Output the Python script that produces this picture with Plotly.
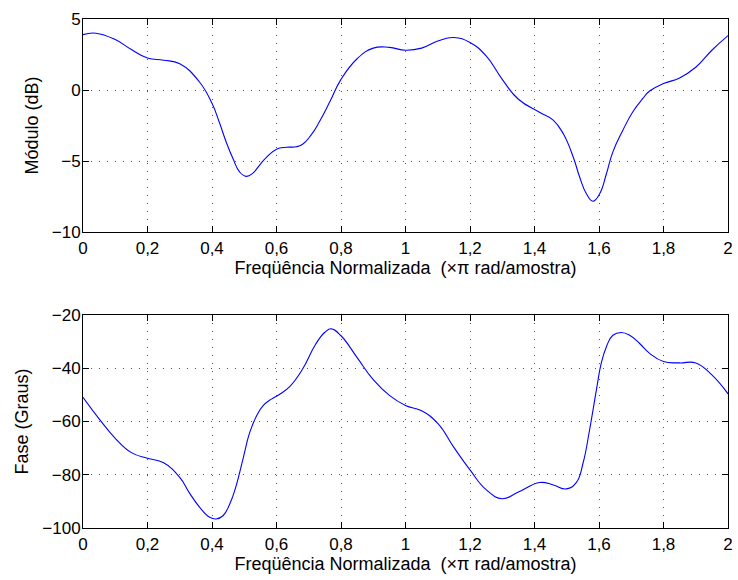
import plotly.graph_objects as go
from plotly.subplots import make_subplots

# Magnitude response (dB)
mag_x = [0.0, 0.04, 0.1, 0.15, 0.2, 0.25, 0.3, 0.36, 0.4, 0.424, 0.444, 0.465, 0.486, 0.506,
         0.527, 0.547, 0.568, 0.6, 0.63, 0.661, 0.681, 0.707, 0.733, 0.766, 0.8, 0.85, 0.9,
         0.95, 1.0, 1.05, 1.1, 1.15, 1.2, 1.25, 1.3, 1.35, 1.4165, 1.458, 1.489, 1.52, 1.54,
         1.561, 1.581, 1.602, 1.623, 1.643, 1.674, 1.705, 1.736, 1.757, 1.8, 1.85, 1.9, 1.95, 2.0]
mag_y = [3.9, 4.0, 3.55, 2.85, 2.25, 2.1, 1.85, 0.6, -0.94, -2.36, -3.66, -4.83, -5.78, -6.08,
         -5.85, -5.3, -4.76, -4.17, -4.03, -4.0, -3.82, -3.18, -2.24, -0.8, 0.75, 2.2, 2.95,
         3.0, 2.8, 2.95, 3.45, 3.7, 3.35, 2.4, 0.75, -0.65, -1.58, -2.12, -3.07, -4.72, -6.13,
         -7.31, -7.83, -7.31, -5.9, -4.36, -2.83, -1.53, -0.59, -0.07, 0.45, 0.85, 1.6, 2.8, 3.83]

# Phase response (degrees)
ph_x = [0.0, 0.05, 0.1, 0.15, 0.2, 0.25, 0.3, 0.331, 0.362, 0.393, 0.413, 0.434, 0.455, 0.475,
        0.496, 0.517, 0.538, 0.558, 0.584, 0.61, 0.641, 0.68, 0.72, 0.75, 0.77, 0.8, 0.85,
        0.9, 0.95, 1.0, 1.05, 1.1, 1.15, 1.2, 1.25, 1.3, 1.35, 1.4165, 1.458, 1.499, 1.53,
        1.551, 1.571, 1.592, 1.607, 1.623, 1.643, 1.669, 1.695, 1.726, 1.757, 1.8, 1.85,
        1.9, 1.95, 2.0]
ph_y = [-50.9, -59.0, -66.3, -71.7, -73.8, -75.5, -81.0, -87.0, -92.25, -96.0, -96.6, -95.4,
        -91.0, -84.1, -74.1, -64.1, -57.9, -54.1, -51.6, -49.75, -46.9, -40.5, -31.25, -26.5,
        -25.2, -27.8, -36.0, -44.3, -50.2, -54.0, -56.0, -60.7, -69.7, -78.2, -85.6, -89.0,
        -86.5, -82.9, -83.85, -85.3, -82.9, -75.4, -63.0, -48.1, -38.1, -31.9, -27.6, -26.6,
        -27.6, -30.7, -34.4, -37.5, -38.0, -38.0, -42.5, -49.6]

x_ticks = [0, 0.2, 0.4, 0.6, 0.8, 1, 1.2, 1.4, 1.6, 1.8, 2]
x_ticktext = ["0", "0,2", "0,4", "0,6", "0,8", "1", "1,2", "1,4", "1,6", "1,8", "2"]
mag_ticks = [-10, -5, 0, 5]
mag_ticktext = ["\u221210", "\u22125", "0", "5"]
ph_ticks = [-100, -80, -60, -40, -20]
ph_ticktext = ["\u2212100", "\u221280", "\u221260", "\u221240", "\u221220"]

xlabel = "Freqüência Normalizada  (×π rad/amostra)"

TICK_FONT = 17
LABEL_FONT = 18

fig = make_subplots(rows=2, cols=1, vertical_spacing=0.163)
fig.add_trace(go.Scatter(x=mag_x, y=mag_y, mode="lines",
                         line=dict(color="#0000ff", width=1.1, shape="spline", smoothing=1.3)),
              row=1, col=1)
fig.add_trace(go.Scatter(x=ph_x, y=ph_y, mode="lines",
                         line=dict(color="#0000ff", width=1.1, shape="spline", smoothing=1.3)),
              row=2, col=1)

axis_common = dict(showline=True, linecolor="black", linewidth=1, mirror="ticks",
                   ticks="inside", ticklen=6, tickcolor="black", tickwidth=1,
                   showgrid=True, gridcolor="#555555", griddash="1px,7px", gridwidth=1,
                   zeroline=False, automargin=False,
                   tickfont=dict(size=TICK_FONT, color="black"))

fig.update_xaxes(range=[0, 2], tickvals=x_ticks, ticktext=x_ticktext,
                 ticklabelstandoff=1,
                 title=dict(text=xlabel, font=dict(size=LABEL_FONT, color="black"), standoff=0),
                 **axis_common)
fig.update_yaxes(range=[-10, 5], tickvals=mag_ticks, ticktext=mag_ticktext,
                 ticklabelstandoff=-2,
                 title=dict(text="Módulo (dB)", font=dict(size=LABEL_FONT, color="black"), standoff=8),
                 row=1, col=1, **axis_common)
fig.update_yaxes(range=[-100, -20], tickvals=ph_ticks, ticktext=ph_ticktext,
                 ticklabelstandoff=-2,
                 title=dict(text="Fase (Graus)", font=dict(size=LABEL_FONT, color="black"), standoff=8),
                 row=2, col=1, **axis_common)

fig.update_layout(
    width=738, height=580,
    margin=dict(l=83, r=10, t=19, b=52),
    paper_bgcolor="white", plot_bgcolor="white",
    showlegend=False,
    font=dict(family="Liberation Sans, Arial, sans-serif", size=TICK_FONT, color="black"),
)
fig.update_layout(yaxis=dict(domain=[0.5815, 1.0]), yaxis2=dict(domain=[0.0, 0.4185]))

fig.write_html("out.html")
